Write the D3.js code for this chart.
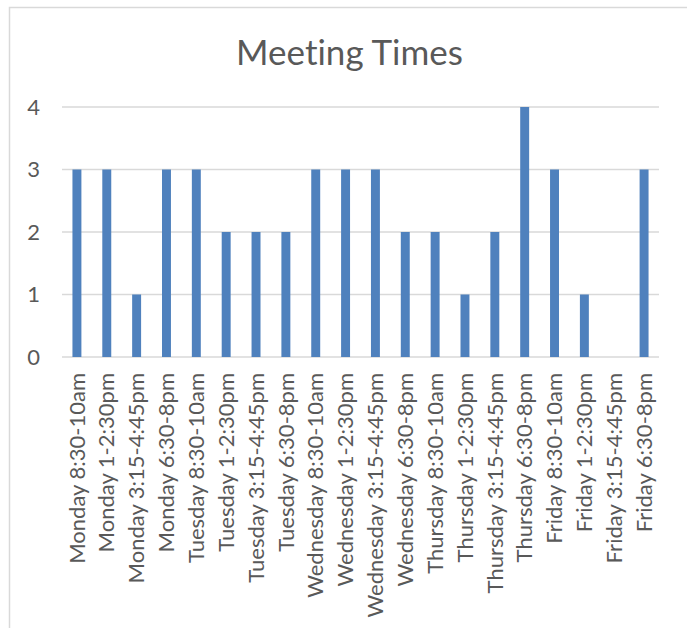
<!DOCTYPE html>
<html>
<head>
<meta charset="utf-8">
<script src="https://cdn.jsdelivr.net/npm/d3@7"></script>
<style>
  html, body { margin: 0; padding: 0; background: #fff; }
  svg { display: block; }
  text { font-variant-ligatures: none; font-feature-settings: "liga" 0; }
</style>
</head>
<body>
<svg id="chart" width="687" height="628"></svg>
<script>
const categories = [
  "Monday 8:30-10am", "Monday 1-2:30pm", "Monday 3:15-4:45pm", "Monday 6:30-8pm",
  "Tuesday 8:30-10am", "Tuesday 1-2:30pm", "Tuesday 3:15-4:45pm", "Tuesday 6:30-8pm",
  "Wednesday 8:30-10am", "Wednesday 1-2:30pm", "Wednesday 3:15-4:45pm", "Wednesday 6:30-8pm",
  "Thursday 8:30-10am", "Thursday 1-2:30pm", "Thursday 3:15-4:45pm", "Thursday 6:30-8pm",
  "Friday 8:30-10am", "Friday 1-2:30pm", "Friday 3:15-4:45pm", "Friday 6:30-8pm"
];
const values = [3, 3, 1, 3, 3, 2, 2, 2, 3, 3, 3, 2, 2, 1, 2, 4, 3, 1, 0, 3];
const yTicks = [0, 1, 2, 3, 4];
const title = "Meeting Times";

const svg = d3.select("#chart");
const font = "Lato, 'Open Sans', sans-serif";
const textColor = "#595959";

// chart area border
svg.append("rect")
  .attr("x", 9.5).attr("y", 7.5)
  .attr("width", 700).attr("height", 700)
  .attr("fill", "#fff")
  .attr("stroke", "#d9d9d9").attr("stroke-width", 1.5);

const plot = { left: 62, right: 659, top: 107, bottom: 357 };

const x = d3.scaleBand()
  .domain(categories)
  .range([plot.left, plot.right])
  .paddingInner(0.7).paddingOuter(0.35);

const y = d3.scaleLinear()
  .domain([0, 4])
  .range([plot.bottom, plot.top]);

// gridlines
svg.append("g")
  .selectAll("line")
  .data(yTicks)
  .join("line")
  .attr("x1", plot.left).attr("x2", plot.right)
  .attr("y1", d => y(d)).attr("y2", d => y(d))
  .attr("stroke", "#d9d9d9").attr("stroke-width", 1.3);

// y axis labels
const yAxis = svg.append("g")
  .attr("transform", `translate(${plot.left - 22},0)`)
  .call(d3.axisLeft(y).tickValues(yTicks).tickSize(0).tickPadding(0).tickFormat(d3.format("d")));
yAxis.select(".domain").remove();
yAxis.selectAll("text")
  .attr("fill", textColor)
  .style("font-family", font)
  .style("font-size", "22px");

// bars
svg.append("g")
  .selectAll("rect")
  .data(categories.map((c, i) => ({ c, v: values[i] })))
  .join("rect")
  .attr("x", d => x(d.c))
  .attr("width", x.bandwidth())
  .attr("y", d => y(d.v))
  .attr("height", d => y(0) - y(d.v))
  .attr("fill", "#4f81bd");

// x axis labels
const xAxis = svg.append("g")
  .attr("transform", `translate(0,${plot.bottom})`)
  .call(d3.axisBottom(x).tickSize(0).tickPadding(0));
xAxis.select(".domain").remove();
xAxis.selectAll(".tick text")
  .attr("fill", textColor)
  .style("font-family", font)
  .style("font-size", "22px")
  .attr("text-anchor", "end")
  .attr("transform", "translate(0,16) rotate(-90)")
  .attr("x", 0)
  .attr("y", 0)
  .attr("dy", "0.35em");

// title
svg.append("text")
  .attr("x", 349.5)
  .attr("y", 65)
  .attr("text-anchor", "middle")
  .attr("fill", textColor)
  .style("font-family", font)
  .style("font-size", "35px")
  .text(title);
</script>
</body>
</html>
